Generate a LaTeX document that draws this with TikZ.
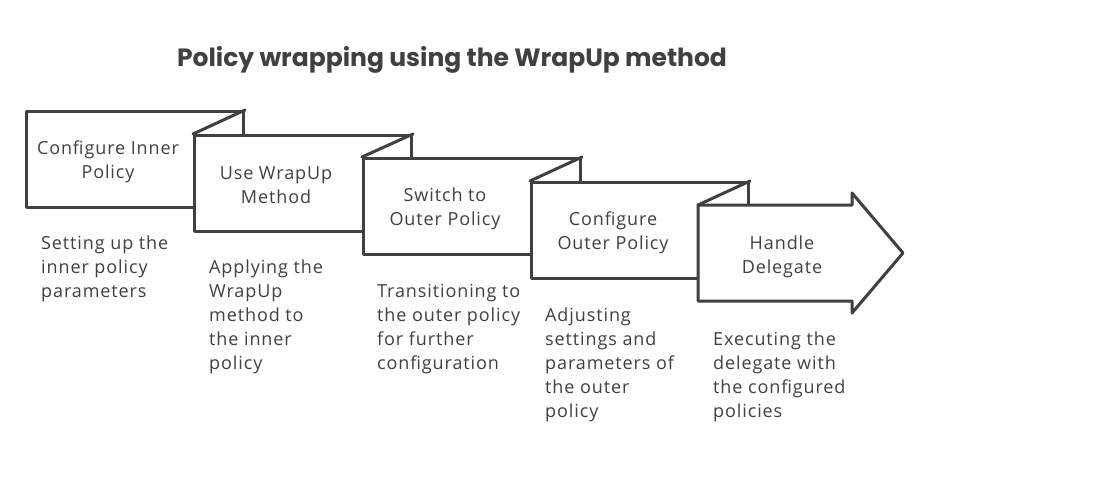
\documentclass[tikz,border=0pt]{standalone}
\usepackage{fontspec}
\setmainfont{Open Sans}
\newfontfamily\bodyfont[LetterSpace=5]{Open Sans}
\newfontfamily\titlefont{Poppins}
\definecolor{ink}{HTML}{404040}
\begin{document}
\begin{tikzpicture}[x=1pt,y=1pt,
  stepbox/.style={draw=ink, fill=white, line width=3pt, line join=round, minimum width=217pt, minimum height=96pt, anchor=north west, inner sep=0pt},
  fold/.style={draw=ink, line width=3pt, line cap=round},
  boxtext/.style={text=ink, align=center, font=\bodyfont\fontsize{18}{24}\selectfont},
  desc/.style={text=ink, align=left, anchor=north west, inner sep=0pt, font=\bodyfont\fontsize{18}{24}\selectfont},
  titlestyle/.style={text=ink, font=\titlefont\bfseries\fontsize{25}{30}\selectfont}]
\useasboundingbox (0,0) rectangle (1096,-496);
\fill[white] (0,0) rectangle (1096,-496);
\node[titlestyle] (title) at (452,-60) {Policy wrapping using the WrapUp method};
% boxes
\node[stepbox] (b1) at (25,-110) {};
\node[stepbox] (b2) at (193,-134) {};
\draw[fold] (b1.north east) -- (b2.north west);
\node[stepbox] (b3) at (362,-157) {};
\draw[fold] (b2.north east) -- (b3.north west);
\node[stepbox] (b4) at (530,-181) {};
\draw[fold] (b3.north east) -- (b4.north west);
% arrow box
\coordinate (a1) at (698,-205);
\coordinate (a2) at (852,-205);
\coordinate (a3) at (852,-193);
\coordinate (a4) at (903,-253);
\coordinate (a5) at (852,-313);
\coordinate (a6) at (852,-301);
\coordinate (a7) at (698,-301);
\filldraw[draw=ink, fill=white, line width=3pt, line join=round] (a1) -- (a2) -- (a3) -- (a4) -- (a5) -- (a6) -- (a7) -- cycle;
\draw[fold] (b4.north east) -- (a1);
% box texts
\node[boxtext] (t1) at (108,-162) {Configure Inner\\Policy};
\node[boxtext] (t2) at (276,-185) {Use WrapUp\\Method};
\node[boxtext] (t3) at (445,-209) {Switch to\\Outer Policy};
\node[boxtext] (t4) at (613,-233) {Configure\\Outer Policy};
\node[boxtext] (t5) at (782,-257) {Handle\\Delegate};
% descriptions
\node[desc] (d1) at (41,-236) {Setting up the\\inner policy\\parameters};
\node[desc] (d2) at (209,-260) {Applying the\\WrapUp\\method to\\the inner\\policy};
\node[desc] (d3) at (377,-284) {Transitioning to\\the outer policy\\for further\\configuration};
\node[desc] (d4) at (545,-308) {Adjusting\\settings and\\parameters of\\the outer\\policy};
\node[desc] (d5) at (713,-332) {Executing the\\delegate with\\the configured\\policies};
\end{tikzpicture}
\end{document}
